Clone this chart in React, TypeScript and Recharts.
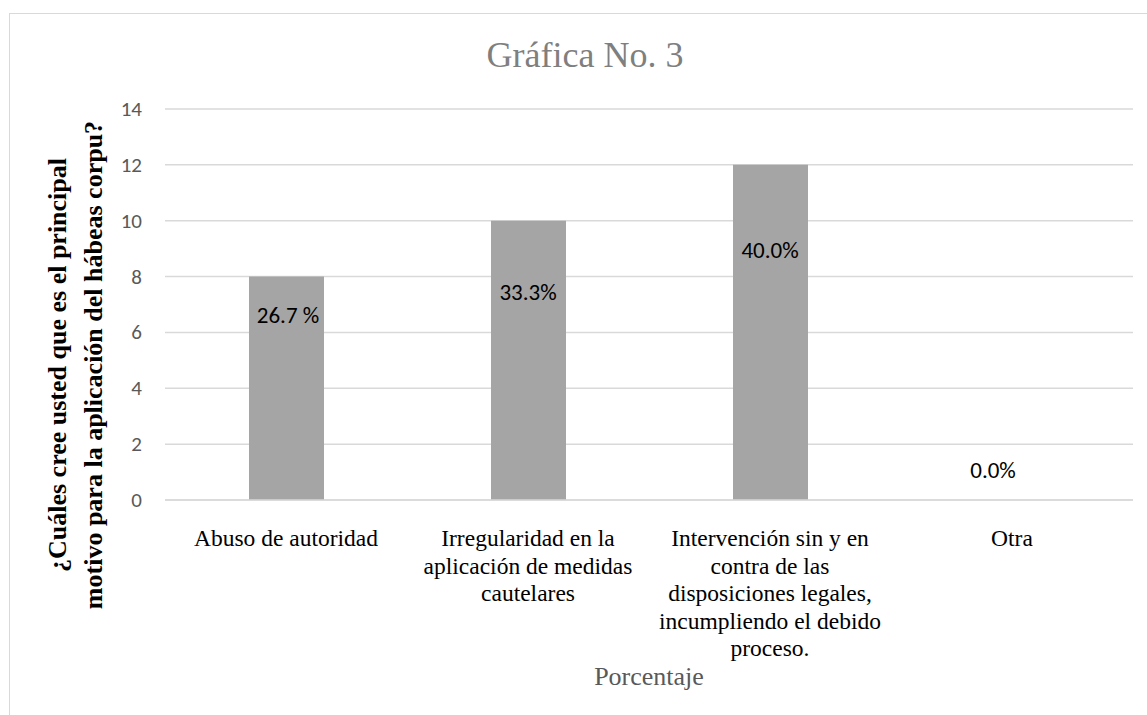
import { ComposedChart, Bar, Line, XAxis, YAxis, CartesianGrid, LabelList } from 'recharts';

const categories = ['Abuso de autoridad', 'Irregularidad en la aplicación de medidas cautelares', 'Intervención sin y en contra de las disposiciones legales, incumpliendo el debido proceso.', 'Otra'];
const categoryLines = [
  ['Abuso de autoridad'],
  ['Irregularidad en la', 'aplicación de medidas', 'cautelares'],
  ['Intervención sin y en', 'contra de las', 'disposiciones legales,', 'incumpliendo el debido', 'proceso.'],
  ['Otra'],
];
const counts = [8, 10, 12, 0];
const percentLabels = ['26.7 %', '33.3%', '40.0%', '0.0%'];
// where each data label sits, in axis units (placed by hand in the original)
const labelLevels = [6.62, 7.45, 8.95, 1.07];
const yTicks = [0, 2, 4, 6, 8, 10, 12, 14];

const LABEL_DX = [2, 0, 0, -19];

const chartData = categories.map((name, i) => ({
  name,
  count: counts[i],
  pct: percentLabels[i],
  labelAt: labelLevels[i],
}));

const SERIF = '"Liberation Serif", "Times New Roman", serif';
const SANS = 'Carlito, "Open Sans", "Liberation Sans", sans-serif';

function CategoryTick(props: any) {
  const { x, y, payload } = props;
  const lines = categoryLines[payload.index] || [payload.value];
  return (
    <text x={x} y={y + 38} textAnchor="middle" fontFamily={SERIF} fontSize={23.5} fill="#000">
      {lines.map((l: string, i: number) => (
        <tspan key={i} x={x} dy={i === 0 ? 0 : 27.5}>
          {l}
        </tspan>
      ))}
    </text>
  );
}

function ValueTick(props: any) {
  const { x, y, payload } = props;
  return (
    <text x={x - 15} y={y + 7} textAnchor="end" fontFamily={SANS} fontSize={21} fill="#595959">
      {payload.value}
    </text>
  );
}

function PctLabel(props: any) {
  const { x, y, value, index } = props;
  return (
    <text x={x + (LABEL_DX[index] || 0)} y={y + 8} textAnchor="middle" fontFamily={SANS} fontSize={23} fill="#000">
      {value}
    </text>
  );
}

export default function App() {
  return (
    <div style={{ position: 'absolute', left: 0, top: 0, width: 1147, height: 715, overflow: 'hidden', background: '#fff' }}>
      <div
        style={{
          position: 'absolute',
          left: 9,
          top: 13,
          width: 1160,
          height: 720,
          border: '1.5px solid #d9d9d9',
        }}
      />
      <svg style={{ position: 'absolute', left: 0, top: 0 }} width={1147} height={715}>
        <text x={585} y={67} textAnchor="middle" fontFamily={SERIF} fontSize={36} fill="#7f7f7f">
          Gráfica No. 3
        </text>
        <text x={649} y={685} textAnchor="middle" fontFamily={SERIF} fontSize={26} fill="#595959">
          Porcentaje
        </text>
        <text
          transform="translate(84, 365) rotate(-90)"
          textAnchor="middle"
          fontFamily={SERIF}
          fontWeight="bold"
          fontSize={26}
          fill="#000"
        >
          <tspan x={0} dy={-18}>¿Cuáles cree usted que es el principal</tspan>
          <tspan x={0} dy={36}>motivo para la aplicación del hábeas corpu?</tspan>
        </text>
      </svg>
      <div style={{ position: 'absolute', left: 0, top: 0 }}>
        <ComposedChart
          width={1147}
          height={715}
          data={chartData}
          margin={{ top: 109, right: 14, bottom: 0, left: 120 }}
        >
          <CartesianGrid horizontal vertical={false} stroke="#d9d9d9" strokeWidth={1.5} />
          <XAxis
            dataKey="name"
            height={215}
            axisLine={{ stroke: '#d9d9d9', strokeWidth: 1.5 }}
            tickLine={false}
            interval={0}
            tick={<CategoryTick />}
          />
          <YAxis
            width={45}
            domain={[0, 14]}
            ticks={yTicks}
            axisLine={false}
            tickLine={false}
            tick={<ValueTick />}
          />
          <Bar dataKey="count" fill="#a5a5a5" barSize={75} isAnimationActive={false} />
          <Line dataKey="labelAt" stroke="none" dot={false} activeDot={false} isAnimationActive={false}>
            <LabelList dataKey="pct" content={<PctLabel />} />
          </Line>
        </ComposedChart>
      </div>
    </div>
  );
}
